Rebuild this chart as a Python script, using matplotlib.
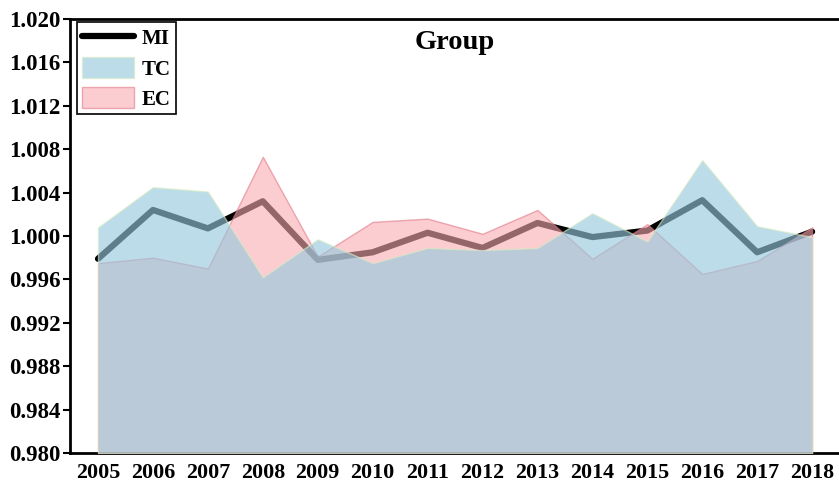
import numpy as np
import matplotlib
matplotlib.use("Agg")
import matplotlib.pyplot as plt

plt.rcParams['font.family'] = ['Liberation Serif', 'DejaVu Serif']
plt.rcParams['font.weight'] = 'bold'

years = [2005, 2006, 2007, 2008, 2009, 2010, 2011, 2012, 2013, 2014, 2015, 2016, 2017, 2018]
mi = [0.9979, 1.0024, 1.0007, 1.0032, 0.9978, 0.9985, 1.0003, 0.9989, 1.0012, 0.9999, 1.0005, 1.0033, 0.9985, 1.0004]
tc = [1.0008, 1.0045, 1.0041, 0.9962, 0.9997, 0.9975, 0.9989, 0.9987, 0.9989, 1.0021, 0.9995, 1.0070, 1.0009, 0.9999]
ec = [0.9975, 0.9980, 0.9970, 1.0073, 0.9981, 1.0013, 1.0016, 1.0002, 1.0024, 0.9979, 1.0011, 0.9965, 0.9977, 1.0008]
y_ticks = [0.980, 0.984, 0.988, 0.992, 0.996, 1.000, 1.004, 1.008, 1.012, 1.016, 1.020]

base = 0.980

fig = plt.figure(figsize=(8.39, 4.87), dpi=100)
ax = fig.add_axes([70/839, 34/487, 769/839, 434/487])

# line under the fills so it gets tinted by them
ax.plot(years, mi, color='black', lw=4.5, solid_capstyle='round',
        solid_joinstyle='round', zorder=2, label='MI')
ax.fill_between(years, base, ec, facecolor=(250/255, 172/255, 177/255), alpha=0.6,
                edgecolor=(225/255, 120/255, 135/255), lw=1.0, zorder=3, label='EC')
ax.fill_between(years, base, tc, facecolor=(150/255, 201/255, 222/255), alpha=0.63,
                edgecolor=(215/255, 235/255, 195/255), lw=1.0, zorder=4, label='TC')

ax.set_xlim(2004.49, 2018.49)
ax.set_ylim(0.980, 1.020)
ax.set_xticks(years)
ax.set_xticklabels([str(y) for y in years])
ax.set_yticks(y_ticks)
ax.set_yticklabels(['%.3f' % v for v in y_ticks])

ax.tick_params(axis='y', direction='out', length=5, width=1.5, labelsize=16.5, pad=2)
ax.tick_params(axis='x', length=0, labelsize=15.8, pad=7)

for s in ['left', 'bottom', 'top']:
    ax.spines[s].set_linewidth(2)
ax.spines['right'].set_visible(False)

ax.text(0.5, 0.945, 'Group', transform=ax.transAxes, ha='center', va='center',
        fontsize=20.5, fontweight='bold')

handles, labels = ax.get_legend_handles_labels()
order = [labels.index('MI'), labels.index('TC'), labels.index('EC')]
leg = ax.legend([handles[i] for i in order], [labels[i] for i in order],
                loc='upper left', bbox_to_anchor=(0.009, 0.992), borderaxespad=0,
                fancybox=False, edgecolor='black', framealpha=1,
                prop={'size': 15, 'weight': 'bold'},
                handlelength=2.5, handleheight=1.15, labelspacing=0.37,
                handletextpad=0.4, borderpad=0.22)
leg.get_frame().set_linewidth(1.2)
leg.set_zorder(10)

fig.savefig('out.png', dpi=100)
